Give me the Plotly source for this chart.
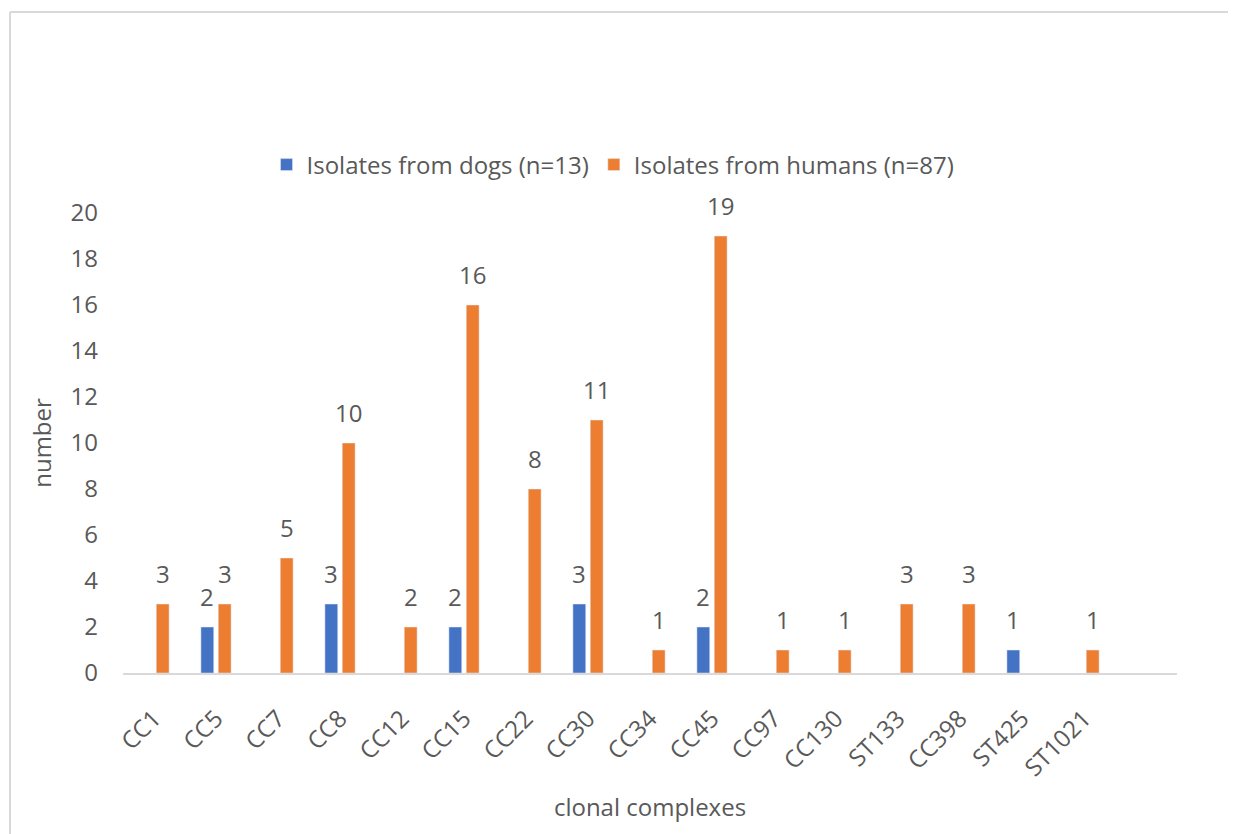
import plotly.graph_objects as go

categories = ["CC1", "CC5", "CC7", "CC8", "CC12", "CC15", "CC22", "CC30", "CC34",
              "CC45", "CC97", "CC130", "ST133", "CC398", "ST425", "ST1021"]
dogs = [None, 2, None, 3, None, 2, None, 3, None, 2, None, None, None, None, 1, None]
humans = [3, 3, 5, 10, 2, 16, 8, 11, 1, 19, 1, 1, 3, 3, None, 1]

BLUE = "#4472C4"
ORANGE = "#ED7D31"
TXT = "#595959"
FONT = "Open Sans"
FS = 24

OFF = 8  # page body margin
W, H = 1236 - OFF, 834 - OFF
L, T = 123 - OFF, 213 - OFF
R = W - (1177 - OFF)
B = H - (673 - OFF)
pw, ph = W - L - R, H - T - B

fig = go.Figure()
fig.add_trace(go.Bar(x=categories, y=dogs, name="Isolates from dogs (n=13)",
                     marker_color=BLUE))
fig.add_trace(go.Bar(x=categories, y=humans, name="Isolates from humans (n=87)",
                     marker_color=ORANGE))

annotations = []
for series, shift in ((dogs, -8.75), (humans, 8.75)):
    for c, v in zip(categories, series):
        if v is None:
            continue
        annotations.append(dict(x=c, y=v, xref="x", yref="y", text=str(v),
                                showarrow=False, xshift=shift, yshift=12,
                                yanchor="bottom",
                                font=dict(family=FONT, size=FS, color=TXT)))

def px_x(p):
    return (p - OFF - L) / pw

def px_y(p):
    return (H - B - (p - OFF)) / ph

shapes = [
    dict(type="line", xref="paper", yref="paper", x0=px_x(10), x1=px_x(1250),
         y0=px_y(12), y1=px_y(12), line=dict(color="#D9D9D9", width=2)),
    dict(type="line", xref="paper", yref="paper", x0=px_x(10), x1=px_x(10),
         y0=px_y(12), y1=px_y(850), line=dict(color="#D9D9D9", width=2)),
]

fig.update_layout(
    width=W, height=H,
    margin=dict(l=L, r=R, t=T, b=B, pad=0, autoexpand=False),
    paper_bgcolor="white", plot_bgcolor="white",
    font=dict(family=FONT, size=FS, color=TXT),
    barmode="group", bargap=0.44, bargroupgap=0.26,
    showlegend=True,
    legend=dict(orientation="h", x=px_x(613), xanchor="center", y=px_y(165),
                yanchor="middle", font=dict(family=FONT, size=FS, color=TXT),
                traceorder="normal"),
    annotations=annotations,
    shapes=shapes,
    xaxis=dict(range=[-0.5, 16.5], tickangle=-45, showgrid=False,
               showline=True, linecolor="#D9D9D9", linewidth=2, ticks="",
               tickfont=dict(family=FONT, size=FS, color=TXT),
               ticklabelstandoff=20, automargin=False,
               title=dict(text="clonal complexes", standoff=17,
                          font=dict(family=FONT, size=FS, color=TXT))),
    yaxis=dict(range=[0, 20], dtick=2, showgrid=False, zeroline=False,
               showline=False, ticks="", automargin=False,
               tickfont=dict(family=FONT, size=FS, color=TXT),
               ticklabelstandoff=24,
               title=dict(text="number", standoff=12,
                          font=dict(family=FONT, size=FS, color=TXT))),
)

fig.write_html("out.html")
